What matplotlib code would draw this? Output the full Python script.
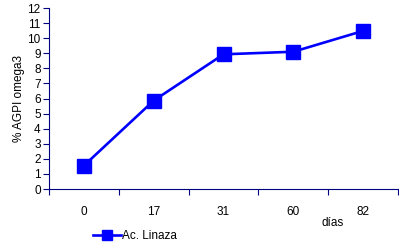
import matplotlib.pyplot as plt
import numpy as np

plt.rcParams['font.family'] = ['Liberation Sans', 'DejaVu Sans']

dias = ['0', '17', '31', '60', '82']
linaza = [1.55, 5.86, 8.93, 9.1, 10.48]
serie = 'Ac. Linaza'

fig = plt.figure(figsize=(3.99, 2.45), dpi=100)
ax = fig.add_axes([49/399, 56/245, 349/399, 181/245])

x = np.arange(len(dias))
line, = ax.plot(x, linaza, color='#0000ff', lw=1.9, marker='s', ms=10.3, label=serie)

axis_col = '#000080'
ax.set_xlim(-0.5, len(dias) - 0.5)
ax.set_ylim(0, 12)
ax.set_yticks(range(0, 13))
ax.set_xticks(np.arange(-0.5, len(dias)), [''] * (len(dias) + 1))
ax.set_xticks(x, dias, minor=True)
ax.tick_params(axis='x', which='minor', length=0, pad=12, labelsize=8.5)
ax.tick_params(axis='x', which='major', length=4, color=axis_col, width=0.8)
ax.tick_params(axis='y', length=4, color=axis_col, width=0.8, labelsize=8.5, pad=2)
for s in ['top', 'right']:
    ax.spines[s].set_visible(False)
for s in ['left', 'bottom']:
    ax.spines[s].set_color(axis_col)
    ax.spines[s].set_linewidth(0.8)

ax.set_ylabel('% AGPI omega3', fontsize=8.5, labelpad=2)
fig.text(333/399, 1 - 223/245, 'días', fontsize=8.5, ha='center', va='center')

fig.legend(handles=[line], loc='center left', bbox_to_anchor=(88/399, 1 - 236/245),
           frameon=False, fontsize=8.5, handlelength=2.4, handletextpad=0.1,
           borderaxespad=0, markerscale=0.72)

fig.savefig('out.png', dpi=100)
